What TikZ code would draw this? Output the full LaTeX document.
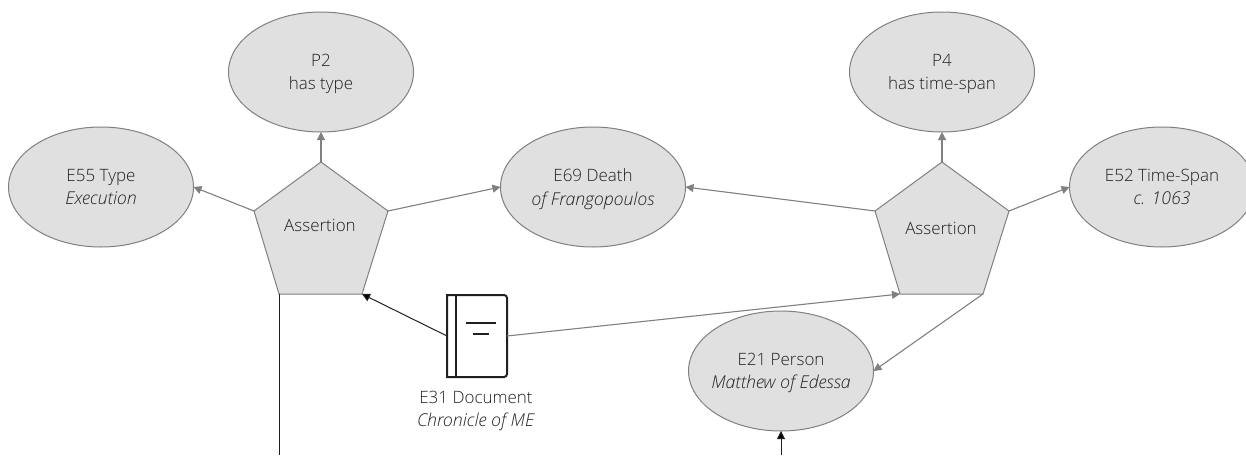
\documentclass[tikz,border=0pt]{standalone}
\usepackage{fontspec}
\setmainfont{Open Sans Light}[BoldFont={Open Sans},ItalicFont={Open Sans Light Italic}]
\usetikzlibrary{shapes.geometric,arrows.meta}
\definecolor{shapefill}{HTML}{E0E0E0}
\definecolor{shapeline}{HTML}{808080}
\definecolor{darkline}{HTML}{202020}
\newcommand{\instname}[1]{\makebox[0pt][c]{\fontsize{17.7}{23.5}\selectfont\textit{#1}}}
\tikzset{
  entity/.style={ellipse,draw=shapeline,fill=shapefill,line width=1pt,minimum width=185pt,minimum height=120pt,inner sep=0pt,outer sep=0pt,align=center,font=\fontsize{17}{23.5}\selectfont,text=darkline,text depth=-2pt},
  pent/.style={draw=shapeline,fill=shapefill,line width=1pt},
  plainlabel/.style={align=center,font=\fontsize{17}{23.5}\selectfont,text=darkline,inner sep=0pt},
  greyarrow/.style={draw=shapeline,line width=1.1pt,-{Triangle[length=8pt,width=8pt]}},
  blackarrow/.style={draw=darkline,line width=1pt,-{Triangle[length=8pt,width=8pt,fill=black]}}
}
\begin{document}
\begin{tikzpicture}[x=1pt,y=-1pt]
        \useasboundingbox (0,0) rectangle (1246,455);
        % property and entity ellipses
        \node[entity] (type) at (101,187) {E55 Type\\\instname{Execution}};
        \node[entity] (hastype) at (321,72) {P2\\has type};
        \node[entity] (death) at (593,187) {E69 Death\\\instname{of Frangopoulos}};
        \node[entity] (person) at (781,371) {E21 Person\\\instname{Matthew of Edessa}};
        \node[entity] (hasspan) at (942,72) {P4\\has time-span};
        \node[entity] (span) at (1162,187) {E52 Time-Span\\\instname{c. 1063}};
        % first pentagon
        \coordinate (atop) at (321,162);
        \coordinate (aright) at (388,211);
        \coordinate (abr) at (362,294);
        \coordinate (abl) at (279,294);
        \coordinate (aleft) at (254,211);
        \draw[pent] (atop)--(aright)--(abr)--(abl)--(aleft)--cycle;
        \node[plainlabel] (asserta) at (320,225) {Assertion};
        % second pentagon
        \coordinate (btop) at (942,162);
        \coordinate (bright) at (1009,211);
        \coordinate (bbr) at (983,294);
        \coordinate (bbl) at (900,294);
        \coordinate (bleft) at (875,211);
        \draw[pent] (btop)--(bright)--(bbr)--(bbl)--(bleft)--cycle;
        \node[plainlabel] (assertb) at (941,228) {Assertion};
        % document icon
        \node[minimum width=60pt,minimum height=82pt,inner sep=0pt,outer sep=0pt] (doc) at (477,336) {};
        \draw[draw=darkline,line width=2pt] (doc.north west) [rounded corners=3pt] -- (doc.north east) -- (doc.south east) [sharp corners] -- (doc.south west) -- cycle;
        \draw[draw=darkline,line width=2pt] (456,295)--(456,377);
        \draw[draw=darkline,line width=1.6pt] (466,323)--(496,323);
        \draw[draw=darkline,line width=1.6pt] (473,334)--(489,334);
        \node[plainlabel] (doclabel) at (476,411) {E31 Document\\\instname{Chronicle of ME}};
        % free ends at the lower edge
        \coordinate (downa) at (279,455);
        \coordinate (downb) at (781,455);
        % connectors
        \draw[greyarrow] (atop)--(hastype.south);
        \draw[greyarrow] (aleft)--(type.east);
        \draw[greyarrow] (aright)--(death.west);
        \draw[greyarrow] (bleft)--(death.east);
        \draw[greyarrow] (btop)--(hasspan.south);
        \draw[greyarrow] (bright)--(span.west);
        \draw[greyarrow] (bbr)--(person.east);
        \draw[greyarrow] (doc.east)--(bbl);
        \draw[blackarrow] (doc.west)--(abr);
        \draw[blackarrow] (downb)--(person.south);
        \draw[draw=darkline,line width=1pt] (abl)--(downa);
    \end{tikzpicture}
\end{document}
